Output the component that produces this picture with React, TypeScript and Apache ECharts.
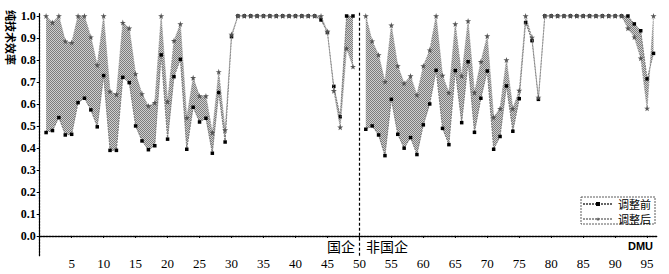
import React, { useEffect, useRef } from "react";
import * as echarts from "echarts";

// DMU 1..96 (position 50 is the SOE / non-SOE divider, no data)
const BEFORE: (number | null)[] = [
  0.470, 0.479, 0.538, 0.459, 0.462, 0.606, 0.626, 0.573, 0.496, 0.729,
  0.389, 0.389, 0.721, 0.697, 0.500, 0.432, 0.392, 0.410, 0.823, 0.440,
  0.724, 0.803, 0.394, 0.585, 0.518, 0.535, 0.376, 0.652, 0.427, 0.906,
  1, 1, 1, 1, 1, 1, 1, 1, 1, 1,
  1, 1, 1, 0.982, 0.925, 0.680, 0.542, 1, 1, null,
  0.485, 0.500, 0.459, 0.365, 0.621, 0.462, 0.399, 0.447, 0.370, 0.505,
  0.600, 0.753, 0.489, 0.415, 0.752, 0.515, 0.792, 0.471, 0.626, 0.750,
  0.394, 0.452, 0.682, 0.476, 0.624, 0.970, 0.888, 0.621, 1, 1,
  1, 1, 1, 1, 1, 1, 1, 1, 1, 1,
  1, 1, 0.964, 0.933, 0.714, 0.830,
];

const AFTER: (number | null)[] = [
  1, 0.971, 1, 0.886, 0.879, 1, 1, 0.904, 0.777, 1,
  0.657, 0.644, 0.970, 0.944, 0.737, 0.646, 0.591, 0.606, 1, 0.611,
  0.888, 0.964, 0.537, 0.719, 0.636, 0.636, 0.470, 0.746, 0.482, 0.916,
  1, 1, 1, 1, 1, 1, 1, 1, 1, 1,
  1, 1, 1, 1, 0.930, 0.660, 0.494, 0.853, 0.770, null,
  1, 0.886, 0.823, 0.701, 0.958, 0.773, 0.694, 0.727, 0.641, 0.773,
  0.845, 1, 0.730, 0.651, 0.964, 0.727, 0.977, 0.652, 0.792, 0.909,
  0.540, 0.579, 0.800, 0.579, 0.661, 1, 0.903, 0.630, 1, 1,
  1, 1, 1, 1, 1, 1, 1, 1, 1, 1,
  1, 0.944, 0.904, 0.808, 0.580, 1,
];

const DMU: number[] = BEFORE.map((_, i) => i + 1);
const GROUPS: [number, number][] = [
  [0, 48],
  [50, 95],
];
const DIVIDER = 50;
const X_TICKS = [5, 10, 15, 20, 25, 30, 35, 40, 45, 50, 55, 60, 65, 70, 75, 80, 85, 90, 95];
const Y_TICKS = [0.0, 0.1, 0.2, 0.3, 0.4, 0.5, 0.6, 0.7, 0.8, 0.9, 1.0];
const SERIES_NAMES = ["调整前", "调整后"];

const STAR =
  "path://M50,0 L61,35 L98,35 L68,57 L79,91 L50,70 L21,91 L32,57 L2,35 L39,35 Z";

function makePattern(): any {
  const c = document.createElement("canvas");
  c.width = 2;
  c.height = 2;
  const ctx = c.getContext("2d")!;
  ctx.fillStyle = "#cfcfcf";
  ctx.fillRect(0, 0, 2, 2);
  ctx.fillStyle = "#7c7c7c";
  ctx.fillRect(0, 0, 1, 1);
  ctx.fillRect(1, 1, 1, 1);
  return { image: c, repeat: "repeat", imageWidth: 2, imageHeight: 2 };
}

export default function App() {
  const ref = useRef<HTMLDivElement>(null);
  useEffect(() => {
    const chart = echarts.init(ref.current!, null, { renderer: "svg" });
    const fill = makePattern();
    const toPairs = (arr: (number | null)[]) =>
      arr.map((v, i) => [DMU[i], v === null ? "-" : v]);
    const serif = "'Liberation Serif', 'Times New Roman', serif";
    const cjk = "'Noto Sans CJK SC', sans-serif";
    const option: any = {
      animation: false,
      backgroundColor: "#fff",
      grid: { left: 39.7, right: 12.3, top: 12.7, bottom: 18.3, containLabel: false },
      xAxis: {
        type: "value",
        min: 0,
        max: 96.5,
        splitLine: { show: false },
        axisLine: { show: true, lineStyle: { color: "#000", width: 1.3, type: [2, 1] } },
        axisTick: { show: true, length: 2, customValues: X_TICKS, lineStyle: { color: "#000" } },
        axisLabel: {
          customValues: X_TICKS,
          fontFamily: serif,
          fontSize: 13,
          color: "#000",
          margin: 1,
        },
      },
      yAxis: {
        type: "value",
        min: -0.09,
        max: 1.015,
        splitLine: { show: false },
        axisLine: { show: true, lineStyle: { color: "#000", width: 1.3, type: [2, 1] } },
        axisTick: { show: true, length: 3, customValues: Y_TICKS, lineStyle: { color: "#000" } },
        axisLabel: {
          customValues: Y_TICKS,
          formatter: (v: number) => v.toFixed(1),
          fontFamily: serif,
          fontSize: 12,
          fontWeight: "bold",
          color: "#000",
          margin: 4,
        },
      },
      legend: {
        data: SERIES_NAMES,
        orient: "vertical",
        left: 582,
        top: 198,
        padding: 0,
        itemGap: 3,
        itemWidth: 30,
        itemHeight: 5,
        textStyle: {
          fontFamily: cjk,
          fontSize: 11,
          lineHeight: 12,
          color: "#000",
          padding: [0, 0, 0, 0],
        },
      },
      graphic: [
        {
          type: "rect",
          shape: { x: 581, y: 197, width: 74, height: 27 },
          style: { fill: "none", stroke: "#333", lineWidth: 0.8, lineDash: [2, 1] },
          silent: true,
        },
        {
          type: "text",
          x: 10.5,
          y: 37.5,
          rotation: -Math.PI / 2,
          style: {
            text: "纯技术效率",
            font: "bold 11px 'Noto Sans CJK SC'",
            fill: "#000",
            align: "center",
            verticalAlign: "middle",
          },
        },
        {
          type: "text",
          x: 355,
          y: 246,
          style: {
            text: "国企",
            font: "14px 'Noto Sans CJK SC'",
            fill: "#000",
            align: "right",
            verticalAlign: "middle",
          },
        },
        {
          type: "text",
          x: 366,
          y: 246,
          style: {
            text: "非国企",
            font: "14px 'Noto Sans CJK SC'",
            fill: "#000",
            align: "left",
            verticalAlign: "middle",
          },
        },
        {
          type: "text",
          x: 653,
          y: 246,
          style: {
            text: "DMU",
            font: "bold 11px 'Liberation Sans'",
            fill: "#000",
            align: "right",
            verticalAlign: "middle",
          },
        },
      ],
      series: [
        {
          type: "custom",
          name: "band",
          z: 1,
          silent: true,
          data: GROUPS.map((g) => [DMU[g[0]], 1]),
          renderItem: (params: any, api: any) => {
            const g = GROUPS[params.dataIndex];
            const pts: number[][] = [];
            for (let i = g[0]; i <= g[1]; i++) pts.push(api.coord([DMU[i], AFTER[i]]));
            for (let i = g[1]; i >= g[0]; i--) pts.push(api.coord([DMU[i], BEFORE[i]]));
            return {
              type: "polygon",
              shape: { points: pts },
              style: { fill, stroke: null },
            };
          },
        },
        {
          type: "line",
          name: SERIES_NAMES[0],
          z: 3,
          data: toPairs(BEFORE),
          connectNulls: false,
          symbol: "rect",
          symbolSize: 3.5,
          itemStyle: { color: "#000" },
          lineStyle: { color: "#666", width: 0.8, type: [2, 1] },
          markLine: {
            silent: true,
            symbol: ["none", "none"],
            label: { show: false },
            lineStyle: { color: "#000", width: 1.2, type: [3, 2] },
            data: [{ xAxis: DIVIDER }],
          },
        },
        {
          type: "line",
          name: SERIES_NAMES[1],
          z: 4,
          data: toPairs(AFTER),
          connectNulls: false,
          symbol: STAR,
          symbolSize: 6,
          itemStyle: { color: "#555" },
          lineStyle: { color: "#999", width: 0.8, type: [2, 1] },
        },
      ],
    };
    chart.setOption(option);
    return () => chart.dispose();
  }, []);
  return (
    <div
      ref={ref}
      style={{ position: "fixed", left: 0, top: 0, width: 669, height: 274, background: "#fff" }}
    />
  );
}
